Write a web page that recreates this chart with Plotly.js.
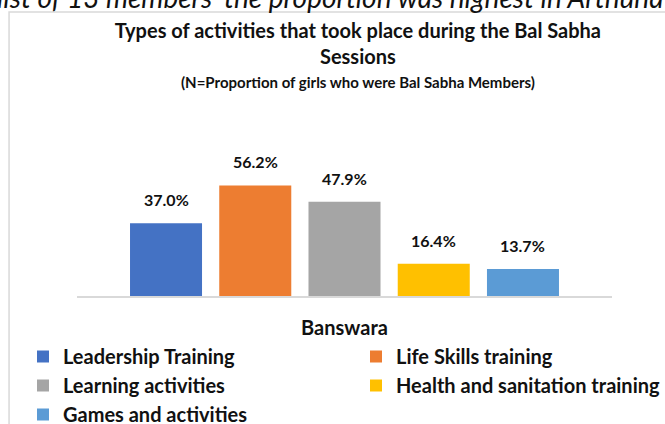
<!DOCTYPE html>
<html>
<head>
<meta charset="utf-8">
<script src="https://cdn.plot.ly/plotly-3.0.1.min.js"></script>
<style>html,body{margin:0;padding:0;background:#fff;}#chart{width:665px;height:424px;}</style>
</head>
<body>
<div id="chart"></div>
<script>
const categories = ["Banswara"];
const seriesNames = ["Leadership Training", "Life Skills training", "Learning activities", "Health and sanitation training", "Games and activities"];
const seriesValues = [37.0, 56.2, 47.9, 16.4, 13.7];
const seriesColors = ["#4472C4", "#ED7D31", "#A5A5A5", "#FFC000", "#5B9BD5"];
const legendColumn = ["legend", "legend2", "legend", "legend2", "legend"];
const titleText = "Types of activities that took place during the Bal Sabha<br>Sessions";
const subtitleText = "(N=Proportion of girls who were Bal Sabha Members)";
const topText = "list of 13 members' the proportion was highest in Arthuna";

const FONT = "Lato, 'Open Sans', sans-serif";
const bargap = 0.166, bargroupgap = 0.193;

const traces = seriesNames.map((name, i) => ({
  type: "bar",
  name: name,
  x: categories,
  y: [seriesValues[i]],
  marker: {color: seriesColors[i]},
  legend: legendColumn[i],
  hoverinfo: "name+y"
}));

const n = seriesNames.length;
const groupW = 1 - bargap;
const slotW = groupW / n;
const labelAnns = seriesValues.map((v, i) => ({
  xref: "x", yref: "y",
  x: -groupW / 2 + (i + 0.5) * slotW,
  y: v,
  text: v.toFixed(1) + "%",
  showarrow: false,
  xanchor: "center", yanchor: "bottom",
  yshift: 12,
  font: {family: FONT, size: 16, color: "#111", weight: "bold"}
}));

const legendFont = {family: FONT, size: 20, color: "#111", weight: "bold"};
const legendBase = {
  orientation: "v", xref: "paper", yref: "paper",
  xanchor: "left", yanchor: "top", y: (296 - 337) / 118,
  font: legendFont, traceorder: "normal", bgcolor: "rgba(0,0,0,0)"
};

const layout = {
  width: 665, height: 424,
  margin: {l: 77, r: 53, t: 178, b: 128, autoexpand: false},
  paper_bgcolor: "#fff", plot_bgcolor: "#fff",
  barmode: "group", bargap: bargap, bargroupgap: bargroupgap,
  title: {
    text: titleText,
    font: {family: FONT, size: 20, color: "#111", weight: "bold"},
    xref: "paper", x: 0.525, xanchor: "center",
    yref: "container", y: 1 - 38 / 424, yanchor: "top"
  },
  xaxis: {
    type: "category",
    showline: true, linecolor: "#D9D9D9", linewidth: 2,
    ticks: "", showgrid: false, zeroline: false,
    tickfont: {family: FONT, size: 20, color: "#111", weight: "bold"},
    ticklabelstandoff: 13
  },
  yaxis: {range: [0, 60], visible: false, showgrid: false, zeroline: false},
  showlegend: true,
  legend: Object.assign({}, legendBase, {x: (23 - 77) / 535}),
  legend2: Object.assign({}, legendBase, {x: (356 - 77) / 535}),
  shapes: [{
    type: "rect", xref: "paper", yref: "paper",
    x0: -0.127, x1: 1.3, y0: -1.5, y1: (296 - 12) / 118,
    line: {color: "#D9D9D9", width: 1.5}, fillcolor: "rgba(0,0,0,0)", layer: "below"
  }],
  annotations: labelAnns.concat([
    {
      xref: "paper", yref: "paper", x: 0.525, y: (296 - 82) / 118,
      text: subtitleText, showarrow: false, xanchor: "center", yanchor: "middle",
      font: {family: FONT, size: 15, color: "#111", weight: "bold"}
    },
    {
      xref: "paper", yref: "paper", x: (-5 - 77) / 535, y: (296 - 16) / 118,
      text: topText, showarrow: false, xanchor: "left", yanchor: "bottom",
      font: {family: FONT, size: 28, color: "#111", style: "italic"}
    }
  ])
};

Plotly.newPlot("chart", traces, layout, {displayModeBar: false, staticPlot: true});
</script>
</body>
</html>
